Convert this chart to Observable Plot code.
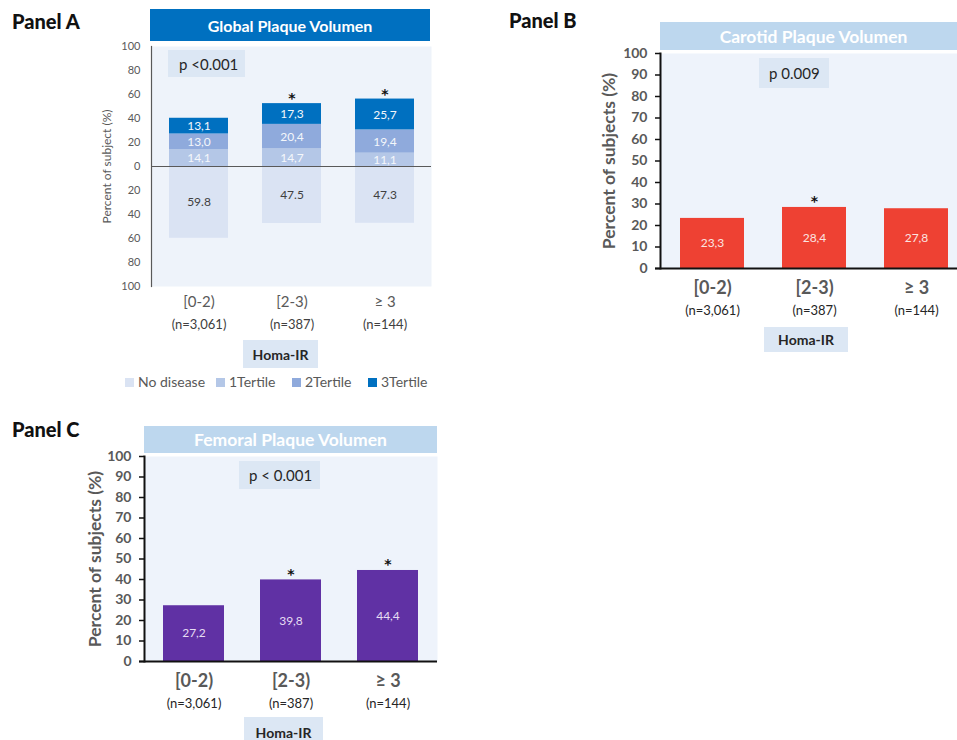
<!DOCTYPE html>
<html>
<head>
<meta charset="utf-8">
<script src="https://cdn.jsdelivr.net/npm/d3@7"></script>
<script src="https://cdn.jsdelivr.net/npm/@observablehq/plot@0.6"></script>
<style>
  html, body { margin: 0; padding: 0; background: #fff; overflow: hidden; }
  #page { position: relative; width: 957px; height: 740px; overflow: hidden; font-family: Lato, "Open Sans", sans-serif; }
  #page svg { position: absolute; }
  .panel-tag { position: absolute; font-weight: 900; font-size: 20px; color: #111; line-height: 1; white-space: nowrap; }
  .title-box { position: absolute; display: flex; align-items: center; justify-content: center; color: #fff; font-weight: 700; font-size: 16px; white-space: nowrap; }
  .note-box { position: absolute; display: flex; align-items: center; box-sizing: border-box; background: #DCE7F4; color: #262626; font-size: 15px; white-space: nowrap; }
  .axis-box { position: absolute; display: flex; align-items: center; justify-content: center; background: #DCE7F4; color: #262626; font-weight: 700; font-size: 14px; white-space: nowrap; }
  .legend-item { position: absolute; display: flex; align-items: center; font-size: 14px; color: #595959; white-space: nowrap; line-height: 1; }
  .legend-item span.sw { display: inline-block; width: 9px; height: 9px; margin-right: 4px; }
</style>
</head>
<body>
<div id="page"></div>
<script>
// Homa-IR groups shared by all three panels
const groups = ["[0-2)", "[2-3)", "≥ 3"];
const groupSizes = ["(n=3,061)", "(n=387)", "(n=144)"];

// Panel A: global plaque volume (no disease drawn below zero, tertiles stacked above)
const globalSeries = ["No disease", "1Tertile", "2Tertile", "3Tertile"];
const globalColors = ["#DAE3F3", "#B4C7E7", "#8FAADC", "#0070C0"];
const globalNoDisease = [59.8, 47.5, 47.3];
const globalTertile1 = [14.1, 14.7, 11.1];
const globalTertile2 = [13.0, 20.4, 19.4];
const globalTertile3 = [13.1, 17.3, 25.7];
const globalSignificant = [false, true, true];
const globalTicks = [-100, -80, -60, -40, -20, 0, 20, 40, 60, 80, 100];

// Panel B: carotid plaque
const carotidValues = [23.3, 28.4, 27.8];
const carotidSignificant = [false, true, false];

// Panel C: femoral plaque
const femoralValues = [27.2, 39.8, 44.4];
const femoralSignificant = [false, true, true];

const percentTicks = [0, 10, 20, 30, 40, 50, 60, 70, 80, 90, 100];

const page = document.getElementById("page");
const comma = v => v.toFixed(1).replace(".", ",");
const font = "Lato, 'Open Sans', sans-serif";
const starFont = "'DejaVu Sans', sans-serif";
const groupRows = groups.map((group, i) => ({group, n: groupSizes[i]}));

function place(svg, left, top) {
  svg.style.left = left + "px";
  svg.style.top = top + "px";
  page.appendChild(svg);
}

// ---------- Panel A ----------
const globalRows = groups.flatMap((group, i) => [
  {group, series: "No disease", value: -globalNoDisease[i], label: globalNoDisease[i].toFixed(1)},
  {group, series: "1Tertile", value: globalTertile1[i], label: comma(globalTertile1[i])},
  {group, series: "2Tertile", value: globalTertile2[i], label: comma(globalTertile2[i])},
  {group, series: "3Tertile", value: globalTertile3[i], label: comma(globalTertile3[i])}
]);
const globalTops = groups.map((group, i) => ({
  group,
  total: globalTertile1[i] + globalTertile2[i] + globalTertile3[i],
  significant: globalSignificant[i]
}));

const plotA = Plot.plot({
  width: 450, height: 400,
  marginLeft: 151, marginRight: 19, marginTop: 46, marginBottom: 114,
  style: {background: "transparent", fontFamily: font, overflow: "visible"},
  x: {type: "band", domain: groups, paddingInner: 0.37, paddingOuter: 0.185, axis: null},
  y: {domain: [-100, 100], axis: null},
  color: {domain: globalSeries, range: globalColors},
  marks: [
    Plot.frame({fill: "#EEF3FA", stroke: null}),
    Plot.barY(globalRows, {x: "group", y: "value", fill: "series"}),
    Plot.ruleY([0], {stroke: "#595959", strokeWidth: 1}),
    Plot.frame({anchor: "left", stroke: "#595959", strokeWidth: 1.2}),
    Plot.text(globalRows.filter(d => d.value > 0),
      Plot.stackY({x: "group", y: "value", z: "series", text: "label", fill: "#F4F7FB", fontSize: 12, dy: 0.5})),
    Plot.text(globalRows.filter(d => d.value < 0),
      Plot.stackY({x: "group", y: "value", z: "series", text: "label", fill: "#404040", fontSize: 12})),
    Plot.text(globalTops.filter(d => d.significant),
      {x: "group", y: "total", text: () => "*", dy: -5, fontSize: 14, fontWeight: 700, fontFamily: starFont, fill: "#111"}),
    Plot.axisY({ticks: globalTicks, tickFormat: Math.abs, tickSize: 0, tickPadding: 11,
      fontSize: 11, fill: "#595959", label: null}),
    Plot.text(["Percent of subject (%)"], {frameAnchor: "left", textAnchor: "middle", rotate: -90, dx: -44,
      fontSize: 12, fill: "#595959"}),
    Plot.text(groupRows, {x: "group", frameAnchor: "bottom", text: "group", dy: 20, fontSize: 15, fill: "#595959"}),
    Plot.text(groupRows, {x: "group", frameAnchor: "bottom", text: "n", dy: 42, fontSize: 13, fill: "#404040"})
  ]
});
place(plotA, 0, 0);

// ---------- Panels B and C: single bars per group ----------
function simplePanel({values, significant, fill, labelFill, width, height, margins, labelDx, starDy}) {
  const rows = groups.map((group, i) => ({group, value: values[i], label: comma(values[i]), significant: significant[i]}));
  return Plot.plot({
    width, height,
    marginLeft: margins[0], marginRight: margins[1], marginTop: margins[2], marginBottom: margins[3],
    style: {background: "transparent", fontFamily: font, overflow: "visible"},
    x: {type: "band", domain: groups, paddingInner: 0.375, paddingOuter: 0.1875, axis: null},
    y: {domain: [0, 100], axis: null},
    marks: [
      Plot.frame({fill: "#EEF3FB", stroke: null}),
      Plot.barY(rows, {x: "group", y: "value", fill}),
      Plot.text(rows, {x: "group", y: d => d.value / 2, text: "label", fill: labelFill, fontSize: 12}),
      Plot.text(rows.filter(d => d.significant),
        {x: "group", y: "value", text: () => "*", dy: starDy, fontSize: 14, fontWeight: 700, fontFamily: starFont, fill: "#111"}),
      Plot.ruleY([0], {stroke: "#111", strokeWidth: 2, insetLeft: -5}),
      Plot.frame({anchor: "left", stroke: "#111", strokeWidth: 2}),
      Plot.axisY({ticks: percentTicks, tickSize: 5, tickPadding: 8, fontSize: 14, fontWeight: 700,
        fill: "#595959", stroke: "#111", strokeWidth: 1.5, label: null}),
      Plot.text(["Percent of subjects (%)"], {frameAnchor: "left", textAnchor: "middle", rotate: -90, dx: labelDx,
        fontSize: 17.5, fontWeight: 700, fill: "#595959"}),
      Plot.text(groupRows, {x: "group", frameAnchor: "bottom", text: "group", dy: 25, fontSize: 18, fontWeight: 700, fill: "#595959"}),
      Plot.text(groupRows, {x: "group", frameAnchor: "bottom", text: "n", dy: 46, fontSize: 13, fill: "#262626"})
    ]
  });
}

const plotB = simplePanel({
  values: carotidValues, significant: carotidSignificant,
  fill: "#EE4133", labelFill: "#FBE4E1",
  width: 420, height: 360, margins: [100, 12.5, 53, 92], labelDx: -51, starDy: -6
});
place(plotB, 560, 0);

const plotC = simplePanel({
  values: femoralValues, significant: femoralSignificant,
  fill: "#6031A4", labelFill: "#E6DDF3",
  width: 450, height: 340, margins: [144, 13, 56, 79], labelDx: -49, starDy: -5.5
});
place(plotC, 0, 400);

// ---------- Headings, annotations and legend ----------
function addDiv(cls, text, style) {
  const el = document.createElement("div");
  el.className = cls;
  el.textContent = text;
  Object.assign(el.style, style);
  page.appendChild(el);
  return el;
}

addDiv("panel-tag", "Panel A", {left: "12px", top: "11px"});
addDiv("panel-tag", "Panel B", {left: "509px", top: "10px"});
addDiv("panel-tag", "Panel C", {left: "12px", top: "419px"});

addDiv("title-box", "Global Plaque Volumen", {left: "150px", top: "9px", width: "280px", height: "32px", background: "#0070C0", fontSize: "16px"});
addDiv("title-box", "Carotid Plaque Volumen", {left: "660px", top: "22px", width: "307px", height: "28px", background: "#BDD7EE", fontSize: "17.5px"});
addDiv("title-box", "Femoral Plaque Volumen", {left: "144px", top: "426px", width: "293px", height: "27px", background: "#BDD7EE", fontSize: "17.5px"});

addDiv("note-box", "p <0.001", {left: "168px", top: "50px", width: "77px", height: "27px", paddingLeft: "11px"});
addDiv("note-box", "p 0.009", {left: "759px", top: "58px", width: "70px", height: "30px", paddingLeft: "10px"});
addDiv("note-box", "p < 0.001", {left: "239px", top: "461px", width: "81px", height: "28px", paddingLeft: "10px"});

addDiv("axis-box", "Homa-IR", {left: "243px", top: "340px", width: "75px", height: "28px"});
addDiv("axis-box", "Homa-IR", {left: "764px", top: "327px", width: "84px", height: "25px"});
addDiv("axis-box", "Homa-IR", {left: "244px", top: "717px", width: "79px", height: "30px"});

const legendX = [125, 216, 292, 368];
globalSeries.forEach((name, i) => {
  const item = document.createElement("div");
  item.className = "legend-item";
  Object.assign(item.style, {left: legendX[i] + "px", top: "375px"});
  const sw = document.createElement("span");
  sw.className = "sw";
  sw.style.background = globalColors[i];
  item.appendChild(sw);
  item.appendChild(document.createTextNode(name));
  page.appendChild(item);
});
</script>
</body>
</html>
